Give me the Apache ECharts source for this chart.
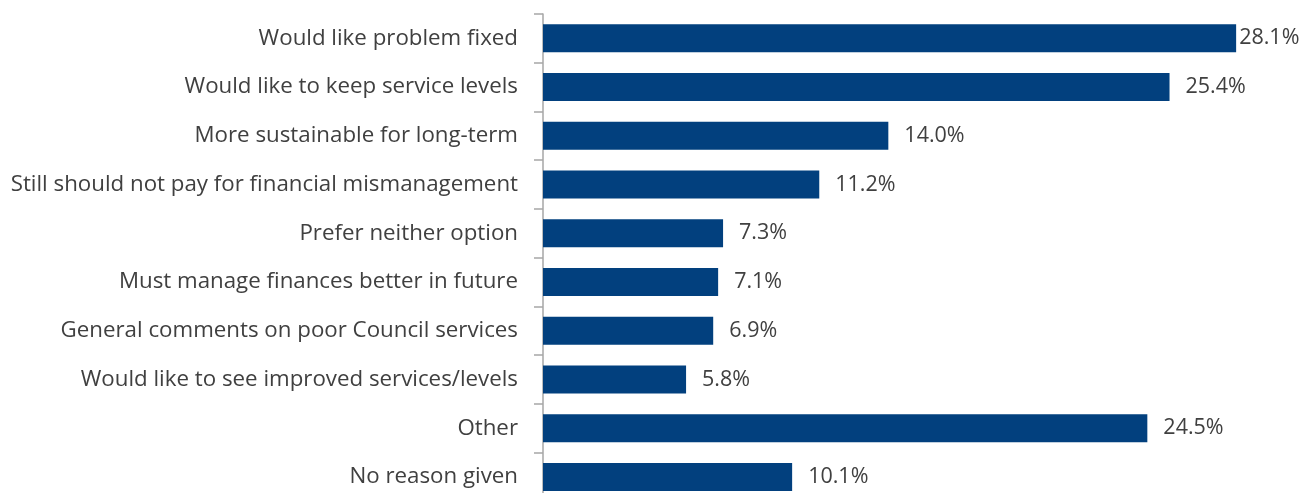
<!DOCTYPE html>
<html>
<head>
<meta charset="utf-8">
<script src="https://cdn.jsdelivr.net/npm/echarts@6/dist/echarts.min.js"></script>
<style>
  html, body { margin: 0; padding: 0; background: #fff; overflow: hidden; height: 493px; }
  /* canvas is a little taller than the view so the last row runs off the bottom edge */
  #chart { width: 1306px; height: 502px; }
</style>
</head>
<body>
<div id="chart"></div>
<script>
// Reasons given, top to bottom
const categories = [
  'Would like problem fixed',
  'Would like to keep service levels',
  'More sustainable for long-term',
  'Still should not pay for financial mismanagement',
  'Prefer neither option',
  'Must manage finances better in future',
  'General comments on poor Council services',
  'Would like to see improved services/levels',
  'Other',
  'No reason given'
];
// Share of responses (%)
const values = [28.1, 25.4, 14.0, 11.2, 7.3, 7.1, 6.9, 5.8, 24.5, 10.1];

const FONT = '"Open Sans", "Noto Sans", sans-serif';
const TEXT = '#404040';

const chart = echarts.init(document.getElementById('chart'), null, { renderer: 'canvas' });
chart.setOption({
  animation: false,
  grid: { left: 543, right: 23, top: 14, bottom: 0.6, containLabel: false },
  xAxis: {
    type: 'value', min: 0, max: 30,
    show: false
  },
  yAxis: {
    type: 'category',
    data: categories,
    inverse: true,
    axisLine: { show: true, lineStyle: { color: '#a6a6a6', width: 1.5 } },
    axisTick: { show: true, length: 9, lineStyle: { color: '#a6a6a6', width: 1.5 } },
    axisLabel: { color: TEXT, fontFamily: FONT, fontSize: 22.3, margin: 25 },
    splitLine: { show: false }
  },
  series: [{
    type: 'bar',
    barWidth: 28,
    data: values.map((v, i) => ({
      value: v,
      label: { distance: i === 0 ? 3 : 16 }
    })),
    itemStyle: { color: '#02407E' },
    label: {
      show: true,
      position: 'right',
      color: TEXT,
      fontFamily: FONT,
      fontSize: 21.5,
      formatter: p => p.value.toFixed(1) + '%'
    }
  }]
});
</script>
</body>
</html>
